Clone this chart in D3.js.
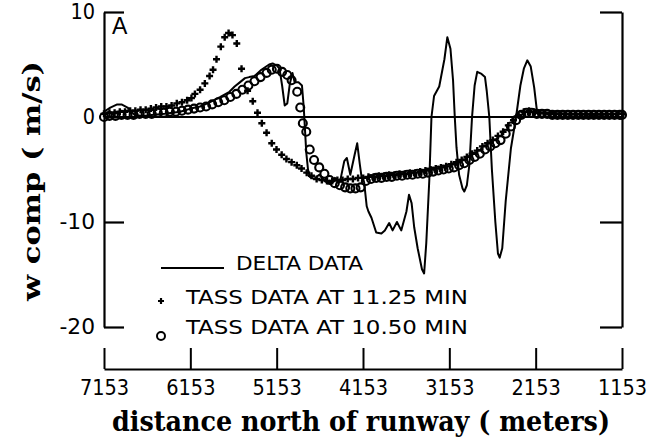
<!DOCTYPE html>
<html>
<head>
<meta charset="utf-8">
<script src="https://cdn.jsdelivr.net/npm/d3@7/dist/d3.min.js"></script>
<style>
  body { margin: 0; background: #fff; }
  svg { display: block; }
  .tick text { font-family: "DejaVu Sans Condensed", "Liberation Sans Narrow", "Liberation Sans", sans-serif; }
</style>
</head>
<body>
<svg id="chart" width="652" height="441"></svg>
<script>
// distance north of runway (m) and w component (m/s)
var deltaDist = [7153, 7080, 7000, 6950, 6880, 6800, 6700, 6600, 6450, 6270, 6150, 6040, 5930, 5810, 5700,
  5640, 5580, 5520, 5470, 5410, 5330, 5240, 5200, 5150, 5120, 5090, 5060, 5030, 5000, 4970, 4945, 4900,
  4860, 4840, 4810, 4790, 4770, 4720, 4660, 4600, 4540, 4480, 4420, 4370, 4340, 4300, 4250, 4220, 4190,
  4170, 4140, 4110, 4090, 4055, 4000, 3940, 3900, 3850, 3810, 3760, 3710, 3650, 3620, 3590, 3560, 3520,
  3470, 3445, 3420, 3385, 3360, 3330, 3270, 3210, 3176, 3140, 3110, 3090, 3070, 3040, 3000, 2980, 2950,
  2920, 2890, 2860, 2830, 2780, 2740, 2720, 2690, 2660, 2620, 2590, 2570, 2540, 2500, 2440, 2380, 2330,
  2290, 2250, 2210, 2170, 2140, 2100, 2000, 1800, 1500, 1160];
var deltaW = [0.5, 0.9, 1.2, 1.2, 0.9, 0.2, 0.1, 0.2, 0.3, 0.5, 0.8, 1.0, 1.4, 1.9, 2.4,
  2.9, 3.3, 3.7, 3.8, 3.9, 4.5, 5.0, 5.1, 4.9, 4.6, 3.0, 1.1, 1.3, 3.2, 4.2, 3.3, 3.3,
  3.0, 1.0, -3.4, -5.0, -5.7, -5.9, -5.5, -6.0, -6.3, -5.8, -6.2, -4.2, -3.9, -5.5, -3.6, -2.5, -4.5,
  -5.7, -6.2, -8.5, -9.0, -9.6, -11.0, -11.1, -10.8, -10.1, -10.8, -10.0, -10.8, -9.0, -7.4, -8.2, -10.5, -12.5,
  -14.5, -14.9, -12.0, -6.0, 0.0, 2.0, 2.9, 5.5, 7.6, 6.5, 3.5, 0.0, -2.9, -5.5, -6.8, -7.1, -6.5,
  -4.5, 0.0, 3.0, 4.3, 4.1, 3.8, 2.5, 0.0, -5.0, -10.0, -13.0, -13.4, -12.5, -8.0, -3.0, 0.0, 3.0,
  4.6, 5.4, 4.8, 2.8, 0.7, 0.4, 0.4, 0.3, 0.2, 0.3];

var tass1125Dist = [7153, 7090, 7030, 6970, 6910, 6850, 6790, 6730, 6670, 6610, 6550, 6490, 6430, 6370,
  6310, 6250, 6190, 6140, 6100, 6040, 5985, 5930, 5890, 5850, 5800, 5755, 5710, 5665, 5615, 5560, 5490,
  5430, 5375, 5325, 5270, 5210, 5155, 5095, 5040, 4980, 4920, 4865, 4805, 4750, 4690, 4630, 4570, 4510,
  4450, 4390, 4330, 4270, 4210, 4150, 4090, 4030, 3970, 3910, 3850, 3790, 3730, 3670, 3610, 3550, 3490,
  3430, 3370, 3310, 3250, 3190, 3130, 3070, 3010, 2950, 2890, 2830, 2770, 2710, 2650, 2590, 2530, 2470,
  2410, 2350, 2290, 2230, 2170, 2110, 2050, 1990, 1930, 1870, 1810, 1750, 1690, 1630, 1570, 1510, 1450,
  1390, 1330, 1270, 1210, 1153];
var tass1125W = [0.3, 0.4, 0.4, 0.5, 0.5, 0.6, 0.6, 0.7, 0.7, 0.8, 0.9, 1.0, 1.0, 1.1,
  1.3, 1.4, 1.6, 1.8, 2.2, 2.6, 3.2, 3.9, 4.5, 5.5, 6.7, 7.6, 8.0, 7.8, 7.0, 4.6, 2.5,
  1.5, 0.4, -0.6, -1.5, -2.5, -3.1, -3.6, -4.0, -4.3, -4.6, -4.9, -5.3, -5.6, -5.9, -6.0, -6.1, -6.1,
  -6.0, -6.0, -5.9, -5.9, -5.8, -5.8, -5.7, -5.7, -5.6, -5.6, -5.5, -5.5, -5.4, -5.4, -5.3, -5.3, -5.2,
  -5.1, -5.0, -4.9, -4.8, -4.7, -4.5, -4.3, -4.1, -3.8, -3.5, -3.2, -2.8, -2.5, -2.2, -1.8, -1.4, -0.8,
  -0.3, 0.2, 0.5, 0.6, 0.5, 0.4, 0.4, 0.3, 0.3, 0.3, 0.3, 0.3, 0.3, 0.3, 0.3, 0.3, 0.3,
  0.3, 0.3, 0.3, 0.3, 0.3];

var tass1050Dist = [7153, 7090, 7020, 6950, 6880, 6810, 6740, 6670, 6600, 6530, 6460, 6390, 6320, 6250,
  6180, 6110, 6040, 5970, 5900, 5830, 5760, 5690, 5620, 5550, 5480, 5410, 5340, 5270, 5210, 5150, 5090,
  5030, 4980, 4915, 4880, 4850, 4810, 4770, 4720, 4660, 4600, 4540, 4480, 4420, 4360, 4300, 4240, 4180,
  4120, 4060, 4000, 3940, 3880, 3820, 3760, 3700, 3640, 3580, 3520, 3460, 3400, 3340, 3280, 3220, 3160,
  3100, 3040, 2980, 2920, 2860, 2800, 2740, 2680, 2620, 2560, 2500, 2440, 2380, 2320, 2260, 2200, 2140,
  2080, 2020, 1960, 1900, 1840, 1780, 1720, 1660, 1600, 1540, 1480, 1420, 1360, 1300, 1240, 1180, 1153];
var tass1050W = [0.0, 0.1, 0.1, 0.2, 0.2, 0.2, 0.3, 0.3, 0.3, 0.4, 0.4, 0.5, 0.5, 0.6,
  0.7, 0.8, 0.9, 1.0, 1.2, 1.4, 1.6, 1.9, 2.2, 2.6, 3.0, 3.4, 3.8, 4.2, 4.5, 4.6, 4.3,
  4.0, 3.5, 2.4, 0.9, -0.6, -1.4, -3.1, -4.1, -4.8, -5.4, -6.0, -6.3, -6.5, -6.7, -6.8, -6.8, -6.7,
  -6.1, -5.9, -5.8, -5.8, -5.7, -5.7, -5.6, -5.6, -5.5, -5.5, -5.4, -5.4, -5.3, -5.2, -5.1, -5.0, -4.9,
  -4.8, -4.6, -4.4, -4.1, -3.8, -3.5, -3.1, -2.8, -2.5, -2.2, -1.6, -0.9, -0.3, 0.2, 0.4, 0.4, 0.3,
  0.3, 0.3, 0.2, 0.2, 0.2, 0.2, 0.2, 0.2, 0.2, 0.2, 0.2, 0.2, 0.2, 0.2, 0.2, 0.2, 0.2];

var xTicks = [7153, 6153, 5153, 4153, 3153, 2153, 1153];
var yTicks = [10, 0, -10, -20];
var legendLabels = ["DELTA DATA", "TASS DATA AT 11.25 MIN", "TASS DATA AT 10.50 MIN"];

var svg = d3.select("#chart");
var plotLeft = 104, plotRight = 622, plotTop = 12, plotBottom = 327, xAxisY = 369;

var x = d3.scaleLinear().domain([7153, 1153]).range([plotLeft, plotRight]);
var y = d3.scaleLinear().domain([-20, 10]).range([plotBottom, plotTop]);

// plain hyphen labels like the original plotter lettering
var plainLabel = function(d) { return String(d); };
// narrow the fallback font to the width of the original digits
var fitLabel = function(sel) {
  sel.selectAll("text")
    .attr("fill", "#000")
    .style("font-size", "21px")
    .attr("lengthAdjust", "spacingAndGlyphs")
    .attr("textLength", function(d) {
      var s = String(d);
      return s.replace("-", "").length * 12.3 + (s.indexOf("-") === 0 ? 11 : 0);
    });
};

// left axis, ticks pointing inward
var leftAxis = svg.append("g")
  .attr("transform", "translate(" + plotLeft + ",0)")
  .call(d3.axisLeft(y).tickValues(yTicks).tickSizeInner(-20).tickSizeOuter(0).tickPadding(9).tickFormat(plainLabel));

// right axis, no labels
var rightAxis = svg.append("g")
  .attr("transform", "translate(" + plotRight + ",0)")
  .call(d3.axisRight(y).tickValues(yTicks).tickSizeInner(-22).tickSizeOuter(0).tickFormat(""));

// detached distance axis under the plot
var bottomAxis = svg.append("g")
  .attr("transform", "translate(0," + xAxisY + ")")
  .call(d3.axisBottom(x).tickValues(xTicks).tickSizeInner(-21).tickSizeOuter(0).tickPadding(11).tickFormat(plainLabel));

[leftAxis, rightAxis, bottomAxis].forEach(function(g) {
  g.selectAll("path, line").attr("stroke", "#000").attr("stroke-width", 2.2);
});
fitLabel(leftAxis);
fitLabel(bottomAxis);
bottomAxis.selectAll("line").attr("stroke-width", 2);

// zero line
svg.append("line")
  .attr("x1", plotLeft).attr("x2", plotRight)
  .attr("y1", y(0)).attr("y2", y(0))
  .attr("stroke", "#000").attr("stroke-width", 2);

// delta data line
var deltaPts = deltaDist.map(function(d, i) { return [d, deltaW[i]]; });
svg.append("path")
  .datum(deltaPts)
  .attr("d", d3.line().x(function(d) { return x(d[0]); }).y(function(d) { return y(d[1]); }))
  .attr("fill", "none").attr("stroke", "#000").attr("stroke-width", 2)
  .attr("stroke-linejoin", "round");

// TASS 11.25 min, plus markers
var plusPts = tass1125Dist.map(function(d, i) { return [d, tass1125W[i]]; });
svg.append("g").selectAll("path")
  .data(plusPts)
  .enter()
  .append("path")
  .attr("transform", function(d) { return "translate(" + x(d[0]) + "," + y(d[1]) + ")"; })
  .attr("d", "M-3.5,0H3.5M0,-3.5V3.5")
  .attr("stroke", "#000").attr("stroke-width", 2.4);

// TASS 10.50 min, open circles
var circlePts = tass1050Dist.map(function(d, i) { return [d, tass1050W[i]]; });
svg.append("g").selectAll("circle")
  .data(circlePts)
  .enter()
  .append("circle")
  .attr("cx", function(d) { return x(d[0]); })
  .attr("cy", function(d) { return y(d[1]); })
  .attr("r", 4)
  .attr("fill", "none").attr("stroke", "#000").attr("stroke-width", 2.1);

// panel letter
svg.append("text")
  .attr("x", 112).attr("y", 34)
  .style("font-family", "'Liberation Sans', sans-serif").style("font-size", "23px")
  .text("A");

// legend
var legendFont = "'DejaVu Sans Condensed', 'Liberation Sans Narrow', sans-serif";
svg.append("line")
  .attr("x1", 161).attr("x2", 224).attr("y1", 268).attr("y2", 268)
  .attr("stroke", "#000").attr("stroke-width", 1.8);
svg.append("path")
  .attr("transform", "translate(161,301)")
  .attr("d", "M-3,0H3M0,-3V3")
  .attr("stroke", "#000").attr("stroke-width", 2.2);
svg.append("circle")
  .attr("cx", 161).attr("cy", 336).attr("r", 4)
  .attr("fill", "none").attr("stroke", "#000").attr("stroke-width", 2);

var legendPos = [[236, 270, 127], [186, 304, 282], [186, 334, 282]];
svg.selectAll(".legend-text")
  .data(legendLabels)
  .enter()
  .append("text")
  .attr("class", "legend-text")
  .attr("x", function(d, i) { return legendPos[i][0]; })
  .attr("y", function(d, i) { return legendPos[i][1]; })
  .attr("textLength", function(d, i) { return legendPos[i][2]; })
  .attr("lengthAdjust", "spacingAndGlyphs")
  .style("font-family", legendFont).style("font-size", "20px")
  .text(function(d) { return d; });

// axis titles
svg.append("text")
  .attr("transform", "translate(40,181) rotate(-90)")
  .attr("text-anchor", "middle")
  .attr("textLength", 240).attr("lengthAdjust", "spacingAndGlyphs")
  .style("font-family", "'DejaVu Serif', serif").style("font-weight", "bold").style("font-size", "25px")
  .text("w comp ( m/s)");

svg.append("text")
  .attr("x", 361).attr("y", 431)
  .attr("text-anchor", "middle")
  .attr("textLength", 498).attr("lengthAdjust", "spacingAndGlyphs")
  .style("font-family", "'DejaVu Serif', serif").style("font-weight", "bold").style("font-size", "27px")
  .text("distance north of runway ( meters)");
</script>
</body>
</html>
